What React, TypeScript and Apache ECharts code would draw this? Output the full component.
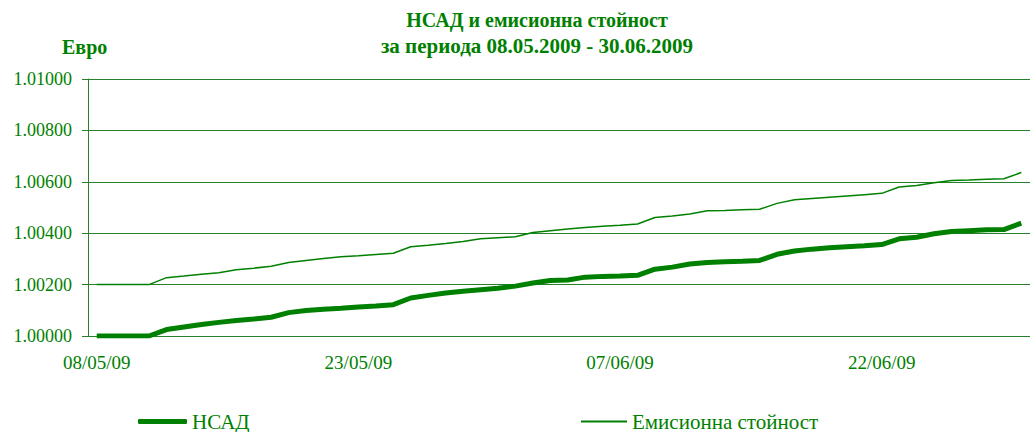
import React, { useEffect, useRef } from "react";
import * as echarts from "echarts";

const dates = [
  "08/05/09", "09/05/09", "10/05/09", "11/05/09", "12/05/09", "13/05/09", "14/05/09", "15/05/09",
  "16/05/09", "17/05/09", "18/05/09", "19/05/09", "20/05/09", "21/05/09", "22/05/09", "23/05/09",
  "24/05/09", "25/05/09", "26/05/09", "27/05/09", "28/05/09", "29/05/09", "30/05/09", "31/05/09",
  "01/06/09", "02/06/09", "03/06/09", "04/06/09", "05/06/09", "06/06/09", "07/06/09", "08/06/09",
  "09/06/09", "10/06/09", "11/06/09", "12/06/09", "13/06/09", "14/06/09", "15/06/09", "16/06/09",
  "17/06/09", "18/06/09", "19/06/09", "20/06/09", "21/06/09", "22/06/09", "23/06/09", "24/06/09",
  "25/06/09", "26/06/09", "27/06/09", "28/06/09", "29/06/09", "30/06/09",
];

const nav = [
  1.0, 1.0, 1.0, 1.0, 1.00025, 1.00035, 1.00045, 1.00053,
  1.0006, 1.00066, 1.00073, 1.00091, 1.00099, 1.00104, 1.00108, 1.00113,
  1.00117, 1.00122, 1.00148, 1.00158, 1.00167, 1.00174, 1.0018, 1.00186,
  1.00194, 1.00206, 1.00216, 1.00218, 1.00229, 1.00232, 1.00233, 1.00236,
  1.0026, 1.00268, 1.0028, 1.00286, 1.00289, 1.00291, 1.00294, 1.00318,
  1.00331, 1.00338, 1.00343, 1.00347, 1.00351, 1.00356, 1.00378, 1.00384,
  1.00398, 1.00407, 1.0041, 1.00413, 1.00414, 1.00439,
];

const emission = [
  1.002, 1.002, 1.002, 1.002, 1.00227, 1.00233, 1.0024, 1.00246,
  1.00258, 1.00264, 1.00271, 1.00286, 1.00294, 1.00302, 1.00308, 1.00312,
  1.00317, 1.00322, 1.00347, 1.00353, 1.0036, 1.00368, 1.00378, 1.00382,
  1.00386, 1.00403, 1.0041, 1.00416, 1.00422, 1.00427, 1.00431, 1.00436,
  1.00461, 1.00467, 1.00475, 1.00487, 1.00488, 1.00491, 1.00493, 1.00516,
  1.0053, 1.00535, 1.0054, 1.00545, 1.0055, 1.00555, 1.0058, 1.00586,
  1.00596, 1.00605, 1.00607, 1.0061, 1.00612, 1.00636,
];

const seriesNames = ["НСАД", "Емисионна стойност"];
const titleText = "НСАД и емисионна стойност";
const subtitleText = "за периода 08.05.2009 - 30.06.2009";
const unitLabel = "Евро";

const GREEN = "#008000";
const GRID = "#2a7f2a";
const FONT = "Liberation Serif";

export default function App() {
  const ref = useRef<HTMLDivElement>(null);

  useEffect(() => {
    if (!ref.current) return;
    const chart = echarts.init(ref.current, undefined, { renderer: "svg" });
    chart.setOption({
      animation: false,
      backgroundColor: "#ffffff",
      textStyle: { fontFamily: FONT },
      title: {
        text: titleText,
        subtext: subtitleText,
        left: 537,
        top: 8,
        padding: 0,
        itemGap: 2,
        textAlign: "center",
        textStyle: {
          fontFamily: FONT,
          fontWeight: "bold",
          fontSize: 20,
          lineHeight: 24,
          color: GREEN,
        },
        subtextStyle: {
          fontFamily: FONT,
          fontWeight: "bold",
          fontSize: 21,
          lineHeight: 24,
          color: GREEN,
        },
      },
      graphic: [
        {
          type: "text",
          x: 62,
          y: 47,
          style: {
            text: unitLabel,
            fontFamily: FONT,
            fontWeight: "bold",
            fontSize: 20,
            fill: GREEN,
            verticalAlign: "middle",
          },
        },
      ],
      legend: [
        {
          data: [{ name: seriesNames[0], icon: "roundRect" }],
          left: 138,
          top: 411,
          padding: 0,
          itemWidth: 49,
          itemHeight: 5,
          textStyle: { fontFamily: FONT, fontSize: 21, color: GREEN },
        },
        {
          data: [{ name: seriesNames[1], icon: "rect" }],
          left: 581,
          top: 411,
          padding: 0,
          itemWidth: 46,
          itemHeight: 2,
          textStyle: { fontFamily: FONT, fontSize: 21, color: GREEN },
        },
      ],
      grid: {
        left: 88,
        top: 79,
        width: 952,
        height: 257,
        containLabel: false,
      },
      xAxis: {
        type: "category",
        data: dates,
        boundaryGap: true,
        axisLine: { lineStyle: { color: GRID, width: 1 } },
        axisTick: { interval: 14, length: 6, lineStyle: { color: GRID } },
        axisLabel: {
          interval: 14,
          margin: 17,
          fontFamily: FONT,
          fontSize: 19,
          color: GREEN,
        },
        splitLine: { show: false },
      },
      yAxis: {
        type: "value",
        min: 1.0,
        max: 1.01,
        interval: 0.002,
        axisLine: { show: true, lineStyle: { color: GRID, width: 1 } },
        axisTick: { show: true, length: 6, lineStyle: { color: GRID } },
        axisLabel: {
          margin: 16,
          fontFamily: FONT,
          fontSize: 18,
          color: GREEN,
          formatter: (v: number) => v.toFixed(5),
        },
        splitLine: { show: true, lineStyle: { color: GRID, width: 1 } },
      },
      series: [
        {
          name: seriesNames[0],
          type: "line",
          data: nav,
          symbol: "none",
          lineStyle: { color: GREEN, width: 5 },
          itemStyle: { color: GREEN },
        },
        {
          name: seriesNames[1],
          type: "line",
          data: emission,
          symbol: "none",
          lineStyle: { color: GREEN, width: 1.5 },
          itemStyle: { color: GREEN },
        },
      ],
    });
    return () => chart.dispose();
  }, []);

  return (
    <div
      ref={ref}
      style={{ position: "absolute", left: 0, top: 0, width: 1030, height: 432 }}
    />
  );
}
